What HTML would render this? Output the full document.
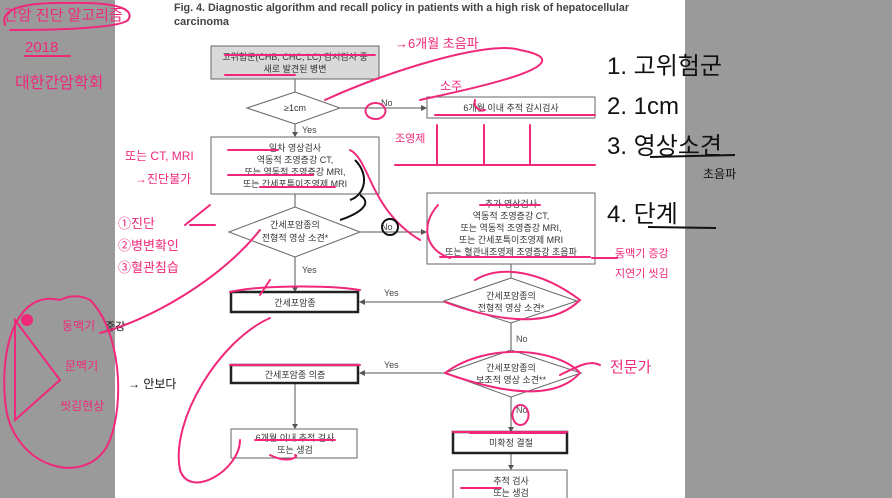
<!DOCTYPE html>
<html><head><meta charset="utf-8"><style>
html,body{margin:0;padding:0;background:#fff}
svg{display:block}
.k{font-family:"Liberation Sans","Noto Sans CJK KR",sans-serif;font-size:9px;fill:#333}
.t{font-family:"Liberation Sans Narrow","Liberation Sans",sans-serif;font-size:11px;font-weight:bold;fill:#444}
.l{font-family:"Liberation Sans",sans-serif;font-size:9px;fill:#444}
.p{font-family:"Liberation Sans","Noto Sans CJK KR",sans-serif;fill:#f0287a}
.b{font-family:"Liberation Sans","Noto Sans CJK KR",sans-serif;fill:#111}
</style></head><body>
<svg width="892" height="498" viewBox="0 0 892 498" xmlns="http://www.w3.org/2000/svg">
<rect x="0" y="0" width="115" height="498" fill="#9a9a9a"/>
<rect x="685" y="0" width="207" height="498" fill="#9a9a9a"/>
<rect x="115" y="0" width="570" height="498" fill="#fff"/>
<text class="t" x="174" y="11" textLength="455" lengthAdjust="spacingAndGlyphs">Fig. 4. Diagnostic algorithm and recall policy in patients with a high risk of hepatocellular</text>
<text class="t" x="174" y="25">carcinoma</text>

<g stroke="#555" stroke-width="1" fill="none">
<line x1="295" y1="79" x2="295" y2="92"/>
<line x1="340" y1="108" x2="422" y2="108"/>
<line x1="295" y1="124" x2="295" y2="134"/>
<line x1="295" y1="194" x2="295" y2="207"/>
<line x1="360" y1="232" x2="422" y2="232"/>
<line x1="295" y1="257" x2="295" y2="289"/>
<line x1="511" y1="264" x2="511" y2="278"/>
<line x1="444" y1="302" x2="363" y2="302"/>
<line x1="511" y1="323" x2="511" y2="350"/>
<line x1="445" y1="373" x2="363" y2="373"/>
<line x1="295" y1="383" x2="295" y2="425"/>
<line x1="511" y1="397" x2="511" y2="428"/>
<line x1="511" y1="453" x2="511" y2="467"/>
</g>
<g fill="#555">
<path d="M427,108 l-6,-3 v6z"/><path d="M427,232 l-6,-3 v6z"/>
<path d="M295,137 l-3,-5 h6z"/><path d="M295,292 l-3,-5 h6z"/>
<path d="M359,302 l6,-3 v6z"/><path d="M359,373 l6,-3 v6z"/>
<path d="M295,429 l-3,-5 h6z"/><path d="M511,432 l-3,-5 h6z"/><path d="M511,470 l-3,-5 h6z"/>
</g>

<g stroke="#666" stroke-width="1">
<rect x="211" y="46" width="168" height="33" fill="#d9d9d9"/>
<polygon points="247,108 295,92 340,108 295,124" fill="#fff"/>
<rect x="427" y="97" width="168" height="21" fill="#fff"/>
<rect x="211" y="137" width="168" height="57" fill="#fff"/>
<polygon points="229,232 295,207 360,232 295,257" fill="#fff"/>
<rect x="427" y="193" width="168" height="71" fill="#fff"/>
<polygon points="444,301 511,278 577,301 511,323" fill="#fff"/>
<polygon points="445,373 511,350 581,373 511,397" fill="#fff"/>
<rect x="231" y="429" width="126" height="29" fill="#fff"/>
<rect x="453" y="470" width="114" height="40" fill="#fff"/>
</g>
<g stroke="#222" stroke-width="2.5" fill="#fff">
<rect x="231" y="292" width="127" height="20"/>
<rect x="231" y="365" width="127" height="18"/>
<rect x="453" y="432" width="114" height="21"/>
</g>

<g class="k" text-anchor="middle">
<text x="295" y="60">고위험군(CHB, CHC, LC) 감시검사 중</text>
<text x="295" y="72">새로 발견된 병변</text>
<text x="295" y="111">≥1cm</text>
<text x="511" y="111">6개월 이내 추적 감시검사</text>
<text x="295" y="151">일차 영상검사</text>
<text x="295" y="163">역동적 조영증강 CT,</text>
<text x="295" y="175">또는 역동적 조영증강 MRI,</text>
<text x="295" y="187">또는 간세포특이조영제 MRI</text>
<text x="295" y="228">간세포암종의</text>
<text x="295" y="241">전형적 영상 소견*</text>
<text x="511" y="207">추가 영상검사</text>
<text x="511" y="219">역동적 조영증강 CT,</text>
<text x="511" y="231">또는 역동적 조영증강 MRI,</text>
<text x="511" y="243">또는 간세포특이조영제 MRI</text>
<text x="511" y="255">또는 혈관내조영제 조영증강 초음파</text>
<text x="295" y="306">간세포암종</text>
<text x="511" y="299">간세포암종의</text>
<text x="511" y="311">전형적 영상 소견*</text>
<text x="511" y="371">간세포암종의</text>
<text x="511" y="383">보조적 영상 소견**</text>
<text x="295" y="378">간세포암종 의증</text>
<text x="295" y="441">6개월 이내 추적 검사</text>
<text x="295" y="453">또는 생검</text>
<text x="511" y="446">미확정 결절</text>
<text x="511" y="484">추적 검사</text>
<text x="511" y="496">또는 생검</text>
</g>
<g class="l">
<text x="302" y="133">Yes</text><text x="381" y="106">No</text>
<text x="381" y="230">No</text><text x="302" y="273">Yes</text>
<text x="384" y="296">Yes</text><text x="516" y="342">No</text>
<text x="384" y="368">Yes</text><text x="516" y="413">No</text>
</g>

<!-- right handwriting -->
<g class="b">
<text x="607" y="74" font-size="24">1. 고위험군</text>
<text x="607" y="114" font-size="24">2. 1cm</text>
<text x="607" y="154" font-size="24">3. 영상소견</text>
<text x="703" y="178" font-size="12">초음파</text>
<text x="607" y="222" font-size="24">4. 단계</text>
</g>
<g stroke="#111" stroke-width="2" fill="none">
<line x1="650" y1="157" x2="735" y2="155"/><line x1="648" y1="227" x2="716" y2="228"/>
</g>

<!-- pink annotations -->
<g class="p">
<text x="4" y="20" font-size="15">간암 진단 알고리즘</text>
<text x="25" y="52" font-size="15">2018</text>
<text x="15" y="88" font-size="16">대한간암학회</text>
<text x="125" y="160" font-size="12">또는 CT, MRI</text>
<text x="135" y="183" font-size="12">→진단불가</text>
<text x="118" y="228" font-size="13">①진단</text>
<text x="118" y="250" font-size="13">②병변확인</text>
<text x="118" y="272" font-size="13">③혈관침습</text>
<text x="395" y="48" font-size="13">→6개월 초음파</text>
<text x="440" y="90" font-size="12">소주</text>
<text x="395" y="142" font-size="11">조영제</text>
<text x="615" y="257" font-size="11">동맥기 증강</text>
<text x="615" y="277" font-size="11">지연기 씻김</text>
<text x="610" y="372" font-size="15">전문가</text>
<text x="62" y="330" font-size="12">동맥기</text>
<text x="65" y="370" font-size="12">문맥기</text>
<text x="60" y="410" font-size="12">씻김현상</text>
</g>
<text class="b" x="105" y="330" font-size="11">증강</text>
<text class="b" x="128" y="388" font-size="12">→ 안보다</text>
<g stroke="#f0287a" stroke-width="2" fill="none" stroke-linecap="round">
<path d="M5,25 C0,10 20,2 70,3 C120,2 135,10 128,20 C120,28 60,30 10,30"/>
<line x1="25" y1="56" x2="70" y2="56"/>
<path d="M225,55 h150 M225,75 h70 M228,150 h50 M228,175 h85 M260,187 h75"/>
<path d="M435,115 h160 M480,205 h60 M440,257 h150"/>
<path d="M420,100 C440,95 600,65 520,50 C490,40 390,70 325,100"/>
<path d="M395,165 h200 M437,125 v40 M484,125 v40 M530,125 v40"/>
<path d="M350,150 C370,160 370,210 420,240"/>
<path d="M438,205 C420,225 425,250 450,258"/>
<path d="M592,258 h25"/>
<path d="M260,230 C220,280 150,320 100,333"/>
<path d="M230,292 C260,285 330,285 360,290 M230,365 h130 M453,432 h114"/>
<path d="M270,280 l-10,15 M475,280 C500,265 540,270 580,300 C560,320 520,330 445,302"/>
<path d="M445,373 C490,340 560,350 580,373 C560,395 520,400 445,373"/>
<path d="M470,433 h95 M461,488 h40"/>
<path d="M255,440 h80 M270,455 C290,465 300,455 295,455"/>
<path d="M270,318 C220,340 170,420 180,470 C190,500 240,470 240,440"/>
<path d="M210,205 l-25,20 M190,225 l25,0"/>
<path d="M60,300 C20,290 0,340 5,400 C10,470 90,490 110,440 C125,400 120,330 90,300 C80,295 70,295 60,300"/>
<path d="M15,320 L60,380 L15,420 Z"/>
<path d="M560,375 C580,365 590,360 600,365 M520,405 a8,10 0 1,0 1,0"/>
<path d="M375,103 a10,8 0 1,0 1,0 M475,100 a8,8 0 0,0 10,10"/>
</g>
<circle cx="27" cy="320" r="6" fill="#f0287a"/>
<g stroke="#111" stroke-width="2" fill="none">
<path d="M355,160 C370,175 365,195 350,200 M360,195 C375,205 355,215 340,220"/>
<circle cx="390" cy="227" r="8"/>
</g>
</svg>
</body></html>
